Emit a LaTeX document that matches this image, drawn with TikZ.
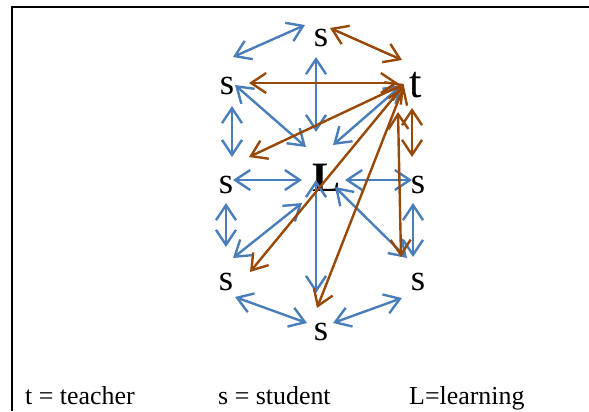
\documentclass[tikz,border=0pt]{standalone}
\usepackage{fontspec}
\setmainfont{Liberation Serif}
\usetikzlibrary{arrows.meta}
\definecolor{ablue}{RGB}{74,126,187}
\definecolor{abrown}{RGB}{152,72,7}
\begin{document}
\begin{tikzpicture}[x=1bp,y=-1bp,
  slbl/.style={inner sep=0pt, font=\fontsize{37}{40}\selectfont},
  tlbl/.style={inner sep=0pt, font=\fontsize{45}{48}\selectfont},
  llbl/.style={inner sep=0pt, font=\fontsize{42}{45}\selectfont\bfseries},
  legend/.style={inner sep=0pt, anchor=base west, font=\fontsize{26}{30}\selectfont},
  barb/.tip={Straight Barb[length=15bp,width=20bp]},
  bl/.style={ablue, line width=2.4bp, barb-barb},
  br/.style={abrown, line width=2.4bp, barb-barb},
  frame/.style={black, line width=1.8bp}]
\useasboundingbox (0,0) rectangle (589,411);
% frame
\coordinate (fl) at (12,411);
\coordinate (fc) at (12,7);
\coordinate (fr) at (589,7);
\draw[frame] (fl) -- (fc) -- (fr);
% labels
\node[slbl] (st) at (321,38) {s};
\node[slbl] (sul) at (227,86) {s};
\node[tlbl] (t) at (416,85) {t};
\node[slbl] (sml) at (226,185) {s};
\node[llbl] (L) at (326,178) {L};
\node[slbl] (smr) at (418,185) {s};
\node[slbl] (sll) at (226,282) {s};
\node[slbl] (slr) at (418,282) {s};
\node[slbl] (sb) at (321,332) {s};
% legend
\node[legend] (lt) at (25,404) {t = teacher};
\node[legend] (ls) at (218,404) {s = student};
\node[legend] (lL) at (409,404) {L=learning};
% blue connector ends
\coordinate (b1a) at (233,57);  \coordinate (b1b) at (305,25);
\coordinate (b2a) at (316,57);  \coordinate (b2b) at (316,132);
\coordinate (b3a) at (235,85);  \coordinate (b3b) at (306,147);
\coordinate (b4a) at (402,85);  \coordinate (b4b) at (333,145);
\coordinate (b5a) at (232,106); \coordinate (b5b) at (232,157);
\coordinate (b6a) at (233,180); \coordinate (b6b) at (302,180);
\coordinate (b7a) at (345,180); \coordinate (b7b) at (412,180);
\coordinate (b8a) at (302,203); \coordinate (b8b) at (233,258);
\coordinate (b9a) at (316,180); \coordinate (b9b) at (316,293);
\coordinate (b10a) at (335,187); \coordinate (b10b) at (407,258);
\coordinate (b11a) at (226,203); \coordinate (b11b) at (226,247);
\coordinate (b12a) at (413,203); \coordinate (b12b) at (413,257);
\coordinate (b13a) at (235,297); \coordinate (b13b) at (307,323);
\coordinate (b14a) at (333,323); \coordinate (b14b) at (402,298);
\foreach \i in {1,...,14} {\draw[bl] (b\i a) -- (b\i b);}
% brown connector ends
\coordinate (r1a) at (330,28);  \coordinate (r1b) at (402,60);
\coordinate (r2a) at (249,83);  \coordinate (r2b) at (398,83);
\coordinate (r3a) at (249,157); \coordinate (r3b) at (404,84);
\coordinate (r4a) at (250,272); \coordinate (r4b) at (404,85);
\coordinate (r5a) at (317,308); \coordinate (r5b) at (404,86);
\coordinate (r6a) at (398,112); \coordinate (r6b) at (401,257);
\coordinate (r7a) at (412,108); \coordinate (r7b) at (412,157);
\foreach \i in {1,...,7} {\draw[br] (r\i a) -- (r\i b);}
\end{tikzpicture}
\end{document}
